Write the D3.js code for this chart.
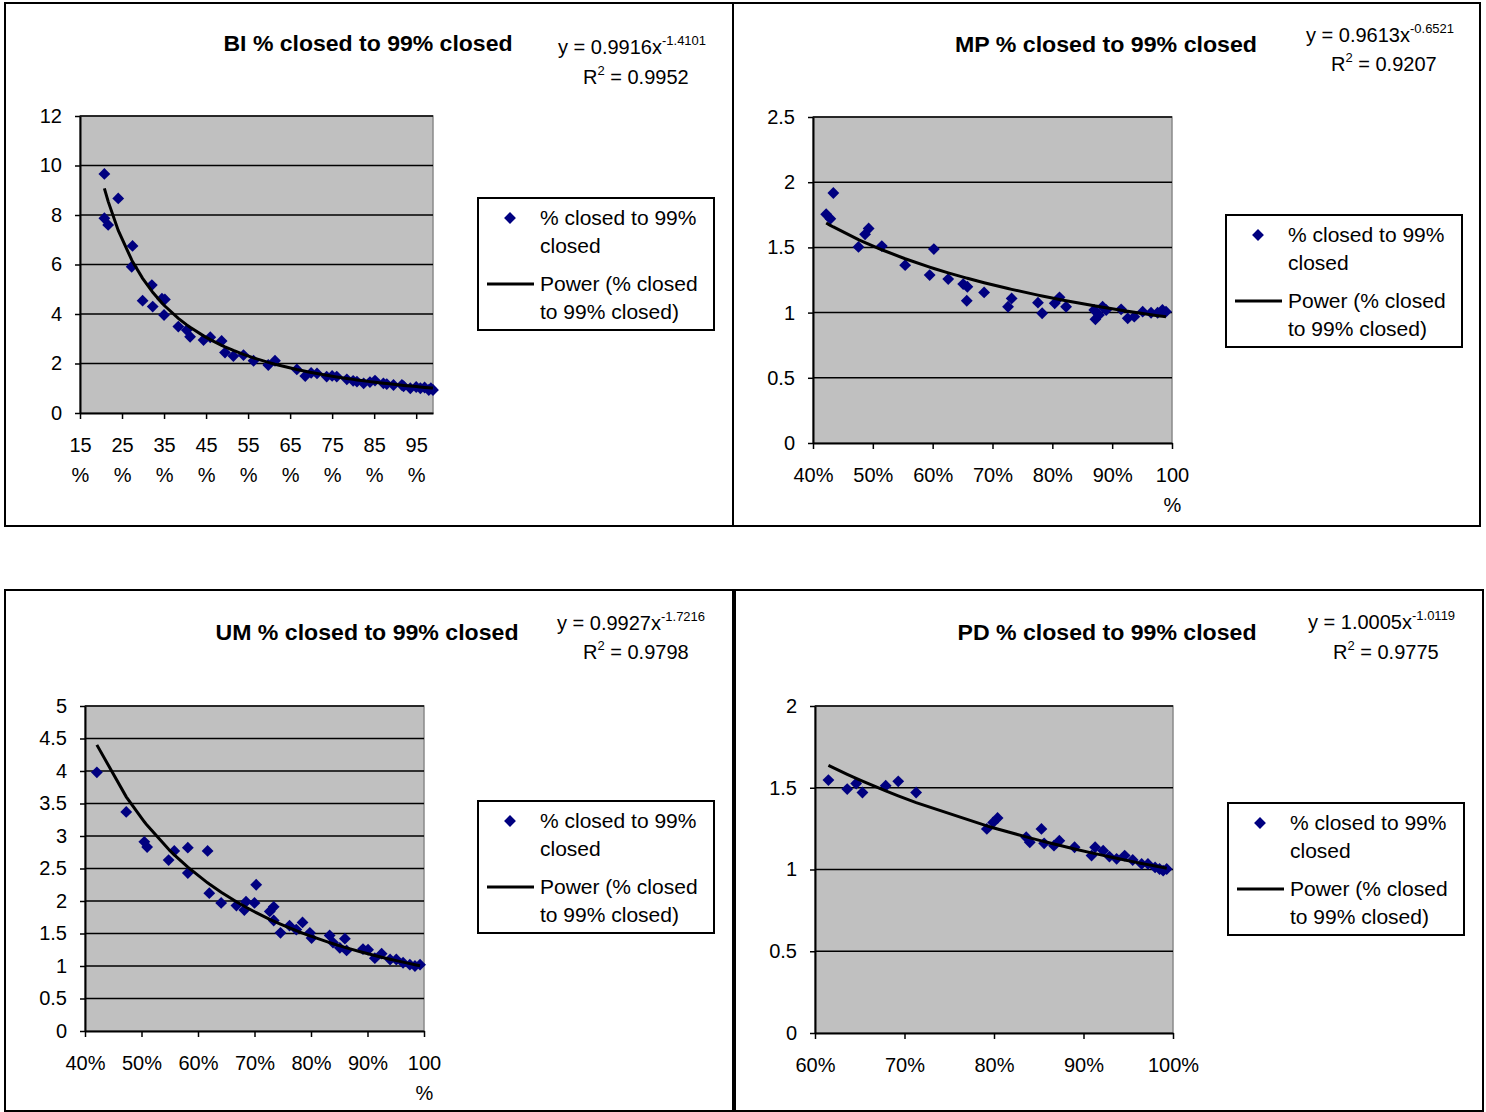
<!DOCTYPE html>
<html>
<head>
<meta charset="utf-8">
<script src="https://cdn.jsdelivr.net/npm/d3@7"></script>
<style>
  body { margin: 0; background: #fff; }
  svg { display: block; font-family: "Liberation Sans", Arial, sans-serif; }
</style>
</head>
<body>
<script>
// ---- data (x = fraction closed, y = ratio to 99% closed) ----
var biPct   = [0.208, 0.208, 0.217, 0.241, 0.273, 0.275, 0.299, 0.321, 0.323, 0.345, 0.352, 0.350, 0.384, 0.404, 0.412,
               0.444, 0.460, 0.487, 0.495, 0.515, 0.539, 0.563, 0.598, 0.614, 0.666, 0.686, 0.700, 0.714, 0.737, 0.750,
               0.761, 0.785, 0.800, 0.809, 0.825, 0.840, 0.852, 0.872, 0.880, 0.896, 0.916, 0.920, 0.936, 0.950, 0.960,
               0.970, 0.980, 0.985, 0.990];
var biRatio = [9.66, 7.87, 7.60, 8.67, 5.91, 6.75, 4.54, 5.17, 4.30, 4.62, 4.59, 3.96, 3.49, 3.35, 3.08,
               2.95, 3.06, 2.91, 2.44, 2.30, 2.34, 2.11, 1.94, 2.11, 1.76, 1.49, 1.62, 1.60, 1.47, 1.50,
               1.47, 1.36, 1.30, 1.27, 1.20, 1.25, 1.31, 1.20, 1.17, 1.13, 1.13, 1.08, 1.00, 1.05, 1.00,
               1.03, 0.93, 1.00, 0.93];

var mpPct   = [0.422, 0.429, 0.434, 0.476, 0.487, 0.493, 0.515, 0.554, 0.595, 0.602, 0.626, 0.651, 0.658, 0.657, 0.686,
               0.726, 0.732, 0.776, 0.783, 0.804, 0.812, 0.823, 0.870, 0.872, 0.878, 0.884, 0.890, 0.915, 0.926, 0.937,
               0.951, 0.965, 0.976, 0.984, 0.990];
var mpRatio = [1.754, 1.720, 1.917, 1.504, 1.600, 1.645, 1.510, 1.364, 1.288, 1.487, 1.257, 1.219, 1.198, 1.091, 1.155,
               1.045, 1.109, 1.076, 0.995, 1.071, 1.117, 1.045, 1.020, 0.949, 0.982, 1.045, 1.020, 1.025, 0.956, 0.969,
               1.007, 0.999, 0.999, 1.020, 1.007];

var umPct   = [0.421, 0.473, 0.505, 0.510, 0.548, 0.558, 0.582, 0.582, 0.617, 0.620, 0.641, 0.668, 0.682, 0.685, 0.700,
               0.703, 0.727, 0.734, 0.734, 0.746, 0.762, 0.774, 0.785, 0.798, 0.801, 0.833, 0.839, 0.851, 0.860, 0.863,
               0.892, 0.901, 0.913, 0.925, 0.940, 0.951, 0.963, 0.975, 0.984, 0.993];
var umRatio = [3.98, 3.37, 2.91, 2.83, 2.63, 2.77, 2.82, 2.43, 2.77, 2.12, 1.97, 1.93, 1.86, 1.99, 1.97,
               2.25, 1.84, 1.91, 1.70, 1.51, 1.62, 1.56, 1.67, 1.51, 1.43, 1.47, 1.36, 1.28, 1.42, 1.24,
               1.26, 1.25, 1.12, 1.19, 1.10, 1.10, 1.05, 1.02, 1.00, 1.02];

var pdPct   = [0.615, 0.636, 0.646, 0.653, 0.679, 0.693, 0.713, 0.792, 0.799, 0.804, 0.836, 0.840, 0.853, 0.856, 0.867,
               0.873, 0.890, 0.909, 0.913, 0.922, 0.929, 0.937, 0.946, 0.955, 0.965, 0.972, 0.980, 0.985, 0.989, 0.993];
var pdRatio = [1.547, 1.492, 1.526, 1.471, 1.512, 1.539, 1.471, 1.248, 1.288, 1.315, 1.197, 1.166, 1.248, 1.160, 1.146,
               1.176, 1.136, 1.085, 1.136, 1.115, 1.079, 1.065, 1.085, 1.058, 1.034, 1.034, 1.013, 1.003, 0.993, 1.003];

// power trendline coefficients shown on each chart: [a, b, R²]  (y = a * x^b)
var biFit = [0.9916, -1.4101, 0.9952];
var mpFit = [0.9613, -0.6521, 0.9207];
var umFit = [0.9927, -1.7216, 0.9798];
var pdFit = [1.0005, -1.0119, 0.9775];

// titles
var titles = ["BI % closed to 99% closed", "MP % closed to 99% closed",
              "UM % closed to 99% closed", "PD % closed to 99% closed"];

// axis ticks and labels
var biXTicks  = [0.15, 0.25, 0.35, 0.45, 0.55, 0.65, 0.75, 0.85, 0.95];
var biXLabels = ["15\n%", "25\n%", "35\n%", "45\n%", "55\n%", "65\n%", "75\n%", "85\n%", "95\n%"];
var biYTicks  = [0, 2, 4, 6, 8, 10, 12];
var mpXTicks  = [0.4, 0.5, 0.6, 0.7, 0.8, 0.9, 1.0];
var mpXLabels = ["40%", "50%", "60%", "70%", "80%", "90%", "100\n%"];
var mpYTicks  = [0, 0.5, 1, 1.5, 2, 2.5];
var umXTicks  = [0.4, 0.5, 0.6, 0.7, 0.8, 0.9, 1.0];
var umXLabels = ["40%", "50%", "60%", "70%", "80%", "90%", "100\n%"];
var umYTicks  = [0, 0.5, 1, 1.5, 2, 2.5, 3, 3.5, 4, 4.5, 5];
var pdXTicks  = [0.6, 0.7, 0.8, 0.9, 1.0];
var pdXLabels = ["60%", "70%", "80%", "90%", "100%"];
var pdYTicks  = [0, 0.5, 1, 1.5, 2];

var legendLabels = [["% closed to 99%", "closed"], ["Power (% closed", "to 99% closed)"]];

var svg = d3.select("body").append("svg")
    .attr("width", 1486)
    .attr("height", 1112);

var panels = [
    {box: [5, 3, 733, 526],     plot: [80, 433, 116, 413],   xDom: [0.15, 0.99], yDom: [0, 12],
     xs: biPct, ys: biRatio, fit: biFit, title: titles[0], xTicks: biXTicks, xLabels: biXLabels, yTicks: biYTicks,
     tPos: [368, 51, 289], eq: [558, 54, 583, 84], legend: [478, 198, 236, 132]},
    {box: [733, 3, 1480, 526],  plot: [813, 1172, 117, 443], xDom: [0.4, 1.0],   yDom: [0, 2.5],
     xs: mpPct, ys: mpRatio, fit: mpFit, title: titles[1], xTicks: mpXTicks, xLabels: mpXLabels, yTicks: mpYTicks,
     tPos: [1106, 52, 302], eq: [1306, 42, 1331, 71], legend: [1226, 215, 236, 132]},
    {box: [5, 590, 733, 1111],  plot: [85, 424, 706, 1031],  xDom: [0.4, 1.0],   yDom: [0, 5],
     xs: umPct, ys: umRatio, fit: umFit, title: titles[2], xTicks: umXTicks, xLabels: umXLabels, yTicks: umYTicks,
     tPos: [367, 640, 303], eq: [557, 630, 583, 659], legend: [478, 801, 236, 132]},
    {box: [735, 590, 1483, 1111], plot: [815, 1173, 706, 1033], xDom: [0.6, 1.0], yDom: [0, 2],
     xs: pdPct, ys: pdRatio, fit: pdFit, title: titles[3], xTicks: pdXTicks, xLabels: pdXLabels, yTicks: pdYTicks,
     tPos: [1107, 640, 299], eq: [1308, 629, 1333, 659], legend: [1228, 803, 236, 132]}
];

var diamond = d3.symbol().type(d3.symbolSquare).size(70);

panels.forEach(function(p) {
    var g = svg.append("g");

    g.append("rect")
        .attr("x", p.box[0]).attr("y", p.box[1])
        .attr("width", p.box[2] - p.box[0]).attr("height", p.box[3] - p.box[1])
        .attr("fill", "#fff").attr("stroke", "#000").attr("stroke-width", 2);

    var x = d3.scaleLinear().domain(p.xDom).range([p.plot[0], p.plot[1]]);
    var y = d3.scaleLinear().domain(p.yDom).range([p.plot[3], p.plot[2]]);

    // plot area
    g.append("rect")
        .attr("x", x.range()[0]).attr("y", y.range()[1])
        .attr("width", x.range()[1] - x.range()[0]).attr("height", y.range()[0] - y.range()[1])
        .attr("fill", "#c0c0c0").attr("stroke", "#8a8a8a").attr("stroke-width", 1.5);

    // gridlines
    g.selectAll("line.grid")
        .data(p.yTicks.filter(function(d) { return d > p.yDom[0]; }))
        .enter().append("line")
            .attr("x1", x.range()[0]).attr("x2", x.range()[1])
            .attr("y1", function(d) { return y(d); })
            .attr("y2", function(d) { return y(d); })
            .attr("stroke", "#000").attr("stroke-width", 1.5);

    // y axis
    var yAxis = d3.axisLeft(y).tickValues(p.yTicks).tickSize(5).tickSizeOuter(0).tickPadding(13)
        .tickFormat(function(d) { return String(d); });
    var ya = g.append("g").attr("transform", "translate(" + x.range()[0] + ",0)").call(yAxis);
    ya.select(".domain").attr("stroke", "#000").attr("stroke-width", 2);
    ya.selectAll(".tick line").attr("stroke", "#000").attr("stroke-width", 1.5);
    ya.selectAll(".tick text").attr("font-size", 20).attr("fill", "#000")
        .attr("font-family", "Liberation Sans, Arial, sans-serif");

    // x axis
    var xAxis = d3.axisBottom(x).tickValues(p.xTicks).tickSize(6).tickSizeOuter(0)
        .tickFormat(function(d, i) { return ""; });
    var xa = g.append("g").attr("transform", "translate(0," + y.range()[0] + ")").call(xAxis);
    xa.select(".domain").attr("stroke", "#000").attr("stroke-width", 2);
    xa.selectAll(".tick line").attr("stroke", "#000").attr("stroke-width", 1.5);
    xa.selectAll(".tick text").each(function(d, i) {
        var t = d3.select(this).attr("y", 39).attr("dy", null)
            .attr("font-size", 20).attr("fill", "#000")
            .attr("font-family", "Liberation Sans, Arial, sans-serif");
        p.xLabels[i].split("\n").forEach(function(s, k) {
            t.append("tspan").attr("x", 0).attr("y", 39 + k * 30).text(s);
        });
    });

    // trendline (power fit from the chart's own equation), at the data x positions
    var trendXs = p.xs.slice().sort(d3.ascending);
    var line = d3.line()
        .x(function(d) { return x(d); })
        .y(function(d) { return y(p.fit[0] * Math.pow(d, p.fit[1])); });

    // points
    g.selectAll("path.pt")
        .data(d3.range(p.xs.length))
        .enter().append("path")
            .attr("d", diamond)
            .attr("transform", function(i) {
                return "translate(" + x(p.xs[i]) + "," + y(p.ys[i]) + ") rotate(45)";
            })
            .attr("fill", "#000080");

    g.append("path")
        .datum(trendXs)
        .attr("d", line)
        .attr("fill", "none")
        .attr("stroke", "#000")
        .attr("stroke-width", 3);

    // title
    g.append("text")
        .attr("x", p.tPos[0]).attr("y", p.tPos[1])
        .attr("text-anchor", "middle")
        .attr("font-size", 22).attr("font-weight", "bold")
        .attr("textLength", p.tPos[2]).attr("lengthAdjust", "spacingAndGlyphs")
        .text(p.title);

    // equation and R²
    var eq = g.append("text").attr("x", p.eq[0]).attr("y", p.eq[1]).attr("font-size", 20);
    eq.append("tspan").text("y = " + p.fit[0].toFixed(4) + "x");
    eq.append("tspan").attr("dy", -9).attr("font-size", 13).text(p.fit[1].toFixed(4));

    var r2 = g.append("text").attr("x", p.eq[2]).attr("y", p.eq[3]).attr("font-size", 20);
    r2.append("tspan").text("R");
    r2.append("tspan").attr("dy", -9).attr("font-size", 13).text("2");
    r2.append("tspan").attr("dy", 9).text(" = " + p.fit[2].toFixed(4));

    // legend
    var L = p.legend;
    var lg = g.append("g").attr("transform", "translate(" + L[0] + "," + L[1] + ")");
    lg.append("rect").attr("width", L[2]).attr("height", L[3])
        .attr("fill", "#fff").attr("stroke", "#000").attr("stroke-width", 2);
    lg.append("path").attr("d", diamond)
        .attr("transform", "translate(32,20) rotate(45)").attr("fill", "#000080");
    lg.append("line").attr("x1", 9).attr("x2", 56).attr("y1", 86).attr("y2", 86)
        .attr("stroke", "#000").attr("stroke-width", 3);
    var rows = [legendLabels[0][0], legendLabels[0][1], legendLabels[1][0], legendLabels[1][1]];
    var rowY = [27, 55, 93, 121];
    lg.selectAll("text.leg").data(rows).enter().append("text")
        .attr("x", 62).attr("y", function(d, i) { return rowY[i]; })
        .attr("font-size", 21)
        .text(function(d) { return d; });
});
</script>
</body>
</html>
